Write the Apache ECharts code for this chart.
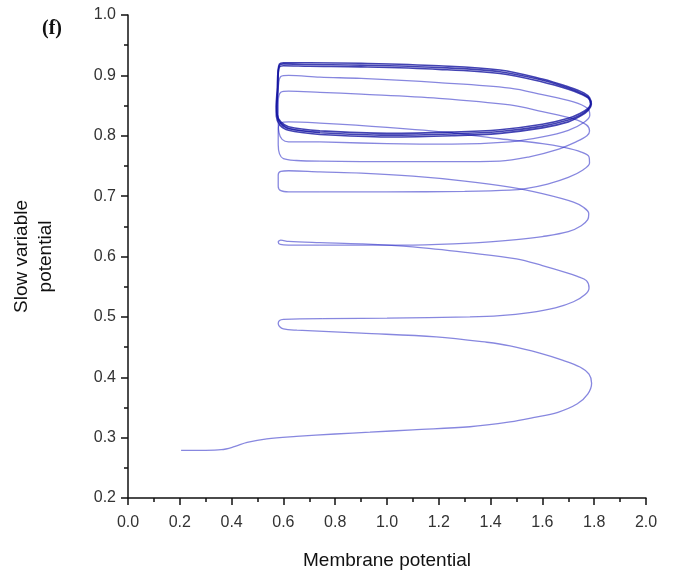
<!DOCTYPE html>
<html>
<head>
<meta charset="utf-8">
<script src="https://cdn.jsdelivr.net/npm/echarts@6/dist/echarts.min.js"></script>
<style>html,body{margin:0;padding:0;background:#fff}#c{width:682px;height:579px}</style>
</head>
<body>
<div id="c"></div>
<script>
// Tick labels
const xTicks = [0.0,0.2,0.4,0.6,0.8,1.0,1.2,1.4,1.6,1.8,2.0];
const yTicks = [0.2,0.3,0.4,0.5,0.6,0.7,0.8,0.9,1.0];

// Trajectory pieces: [membrane potential, slow variable]
const loop1 = [[0.205,0.279],[0.3,0.279],[0.36,0.28],[0.41,0.285],[0.46,0.292],[0.536,0.298],[0.65,0.302],[0.8,0.306],[0.934,0.309],[1.1,0.313],[1.32,0.318],[1.475,0.326],[1.564,0.333],[1.66,0.342],[1.735,0.356],[1.775,0.372],[1.79,0.39],[1.78,0.405],[1.745,0.417],[1.68,0.428],[1.59,0.44],[1.475,0.452],[1.386,0.458],[1.19,0.467],[0.9,0.473],[0.652,0.478],[0.6,0.48],[0.585,0.484],[0.58,0.489],[0.585,0.494],[0.6,0.496],[0.75,0.497]];
const loop2 = [[0.75,0.497],[1.0,0.498],[1.32,0.5],[1.436,0.502],[1.55,0.507],[1.65,0.515],[1.72,0.525],[1.765,0.537],[1.78,0.548],[1.77,0.56],[1.735,0.567],[1.695,0.573],[1.6,0.585],[1.5,0.596],[1.32,0.606],[1.1,0.616],[0.9,0.621],[0.741,0.623],[0.62,0.625],[0.59,0.627],[0.58,0.624],[0.588,0.62],[0.62,0.619],[0.741,0.619]];
const loop3 = [[0.741,0.619],[0.9,0.619],[1.1,0.619],[1.32,0.622],[1.5,0.628],[1.6,0.633],[1.7,0.641],[1.75,0.651],[1.775,0.661],[1.779,0.671],[1.76,0.681],[1.72,0.69],[1.6,0.704],[1.475,0.715],[1.3,0.725],[1.1,0.733],[0.9,0.738],[0.741,0.74],[0.62,0.742],[0.59,0.741],[0.58,0.735],[0.58,0.716],[0.59,0.709],[0.62,0.707],[0.741,0.707]];
const loop4 = [[0.741,0.707],[1.0,0.707],[1.3,0.708],[1.475,0.71],[1.54,0.713],[1.62,0.72],[1.7,0.731],[1.755,0.743],[1.782,0.755],[1.78,0.765],[1.75,0.773],[1.68,0.781],[1.6,0.787],[1.436,0.795],[1.25,0.805],[1.0,0.814],[0.741,0.821],[0.62,0.823],[0.59,0.821],[0.58,0.81],[0.58,0.785],[0.585,0.77],[0.6,0.762],[0.65,0.759],[0.741,0.758]];
const loop5 = [[0.741,0.758],[1.0,0.757],[1.25,0.757],[1.436,0.758],[1.55,0.765],[1.65,0.776],[1.73,0.79],[1.772,0.8],[1.782,0.808],[1.77,0.818],[1.72,0.828],[1.6,0.84],[1.475,0.851],[1.2,0.862],[0.9,0.869],[0.741,0.872],[0.62,0.874],[0.59,0.872],[0.58,0.855],[0.58,0.825],[0.583,0.805],[0.595,0.794],[0.62,0.79],[0.741,0.79]];
const loop6 = [[0.741,0.79],[1.0,0.787],[1.25,0.786],[1.475,0.79],[1.6,0.798],[1.7,0.809],[1.76,0.822],[1.783,0.834],[1.775,0.845],[1.72,0.856],[1.6,0.868],[1.475,0.879],[1.2,0.888],[0.9,0.895],[0.741,0.897],[0.62,0.9],[0.59,0.898],[0.58,0.88],[0.577,0.855],[0.576,0.837],[0.588,0.822],[0.62,0.812],[0.741,0.806]];
const cycleA = [[0.741,0.808],[1.0,0.804],[1.25,0.806],[1.436,0.81],[1.6,0.819],[1.7,0.829],[1.745,0.837],[1.775,0.845],[1.786,0.853],[1.778,0.862],[1.755,0.868],[1.7,0.877],[1.6,0.889],[1.436,0.903],[1.2,0.91],[0.9,0.914],[0.7,0.915],[0.6,0.916],[0.585,0.914],[0.58,0.902],[0.578,0.874],[0.575,0.848],[0.576,0.835],[0.59,0.823],[0.62,0.815],[0.741,0.808]];
const cycleB = [[0.741,0.805],[1.0,0.801],[1.25,0.803],[1.436,0.807],[1.6,0.816],[1.7,0.826],[1.745,0.834],[1.775,0.843],[1.787,0.852],[1.78,0.862],[1.757,0.869],[1.7,0.879],[1.6,0.892],[1.436,0.906],[1.2,0.913],[0.9,0.917],[0.7,0.918],[0.6,0.919],[0.585,0.917],[0.58,0.905],[0.578,0.875],[0.574,0.848],[0.575,0.834],[0.588,0.821],[0.62,0.812],[0.741,0.805]];
const cycleC = [[0.741,0.802],[1.0,0.798],[1.25,0.8],[1.436,0.804],[1.6,0.813],[1.7,0.823],[1.745,0.832],[1.777,0.842],[1.789,0.852],[1.782,0.863],[1.76,0.871],[1.7,0.881],[1.6,0.894],[1.436,0.909],[1.2,0.916],[0.9,0.92],[0.7,0.921],[0.6,0.921],[0.585,0.919],[0.579,0.906],[0.576,0.876],[0.572,0.848],[0.573,0.832],[0.586,0.818],[0.62,0.809],[0.741,0.802]];

const transient = [loop1, loop2, loop3, loop4, loop5, loop6];
const cycles = [cycleA, cycleB, cycleC];

const chart = echarts.init(document.getElementById('c'), null, {renderer: 'canvas'});
const font = 'Liberation Sans, Arial, sans-serif';
const lineSeries = (p, col, op, w) => ({
  type: 'line', data: p, showSymbol: false, symbol: 'none', smooth: 0.35,
  lineStyle: {color: col, width: w, opacity: op}, silent: true
});
chart.setOption({
  animation: false,
  backgroundColor: '#ffffff',
  grid: {left: 128, right: 36, top: 15, bottom: 81, containLabel: false},
  xAxis: {
    type: 'value', min: 0, max: 2, interval: 0.2,
    name: 'Membrane potential', nameLocation: 'middle', nameGap: 53,
    nameTextStyle: {fontFamily: font, fontSize: 19, color: '#111'},
    axisLine: {show: true, onZero: false, lineStyle: {color: '#111', width: 1.5}},
    axisTick: {show: true, inside: false, length: 7, lineStyle: {color: '#111', width: 1.5}},
    minorTick: {show: true, splitNumber: 2, length: 4, lineStyle: {color: '#111', width: 1.5}},
    axisLabel: {fontFamily: font, fontSize: 16, color: '#333', margin: 17,
      formatter: v => { const t = xTicks.find(k => Math.abs(k - v) < 1e-6); return (t === undefined ? v : t).toFixed(1); }},
    splitLine: {show: false}
  },
  yAxis: {
    type: 'value', min: 0.2, max: 1.0, interval: 0.1,
    name: 'Slow variable\npotential', nameLocation: 'middle', nameGap: 70, nameRotate: 90,
    nameTextStyle: {fontFamily: font, fontSize: 19, color: '#111', lineHeight: 24, align: 'center'},
    axisLine: {show: true, onZero: false, lineStyle: {color: '#111', width: 1.5}},
    axisTick: {show: true, inside: false, length: 7, lineStyle: {color: '#111', width: 1.5}},
    minorTick: {show: true, splitNumber: 2, length: 4, lineStyle: {color: '#111', width: 1.5}},
    axisLabel: {fontFamily: font, fontSize: 16, color: '#333', margin: 12,
      formatter: v => { const t = yTicks.find(k => Math.abs(k - v) < 1e-6); return (t === undefined ? v : t).toFixed(1); }},
    splitLine: {show: false}
  },
  graphic: [{
    type: 'text', left: 42, top: 19,
    style: {text: '(f)', font: 'bold 20px "Liberation Serif", "Times New Roman", serif', fill: '#111'}
  }],
  series: transient.map(p => lineSeries(p, '#2424c4', 0.55, 1.3))
    .concat(cycles.map(p => lineSeries(p, '#1414a0', 0.8, 1.6)))
});
</script>
</body>
</html>
